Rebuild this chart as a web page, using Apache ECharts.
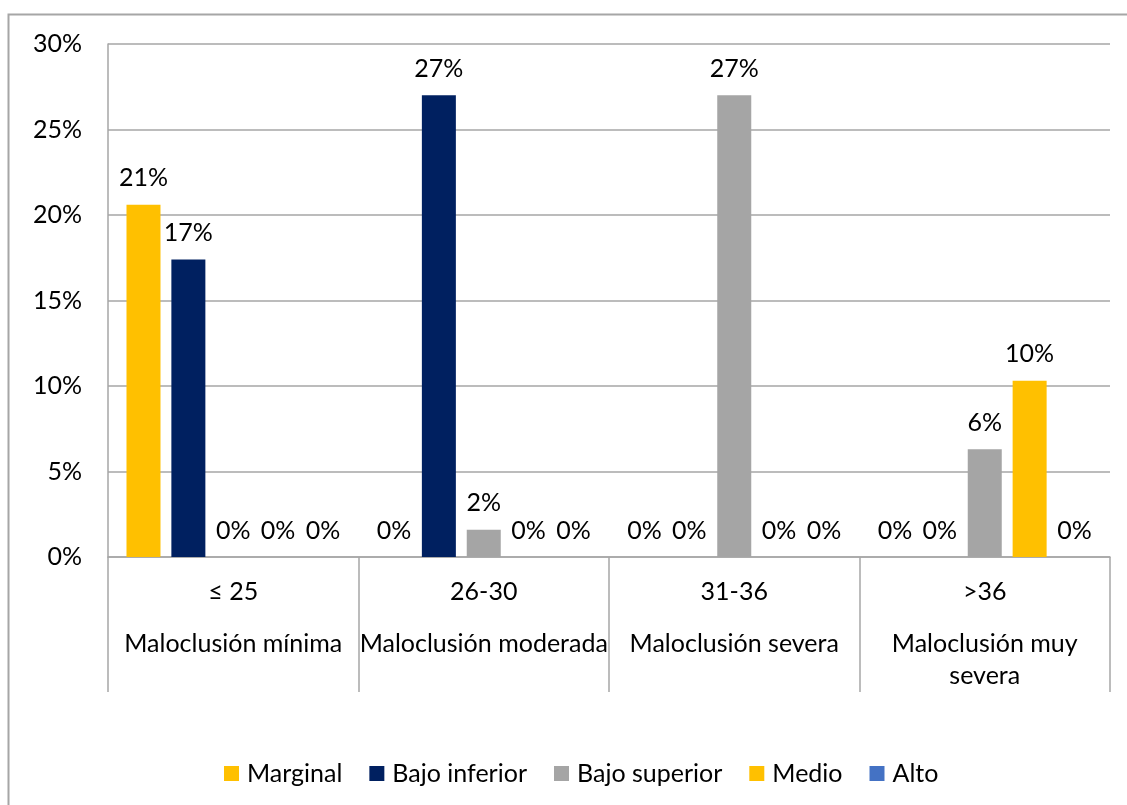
<!DOCTYPE html>
<html>
<head>
<meta charset="utf-8">
<script src="https://cdn.jsdelivr.net/npm/echarts@6/dist/echarts.min.js"></script>
<style>
  html, body { margin: 0; padding: 0; background: #fff; }
  #chart { width: 1127px; height: 805px; }
</style>
</head>
<body>
<div id="chart"></div>
<script>
// Score ranges (upper axis level) and severity names (lower axis level)
const ranges = ['≤ 25', '26-30', '31-36', '>36'];
const severities = ['Maloclusión mínima', 'Maloclusión moderada', 'Maloclusión severa', 'Maloclusión muy\nsevera'];

// Percentages per socioeconomic level
const marginal     = [20.6, 0, 0, 0];
const bajoInferior = [17.4, 27.0, 0, 0];
const bajoSuperior = [0, 1.6, 27.0, 6.3];
const medio        = [0, 0, 0, 10.3];
const alto         = [0, 0, 0, 0];

const seriesNames  = ['Marginal', 'Bajo inferior', 'Bajo superior', 'Medio', 'Alto'];
const seriesValues = [marginal, bajoInferior, bajoSuperior, medio, alto];
const seriesColors = ['#FFC000', '#002060', '#A5A5A5', '#FFC000', '#4472C4'];

const yTicks = { min: 0, max: 30, interval: 5 };

const FONT = 'Lato';
const FS = 25;
const GRAY = '#A6A6A6';

const chart = echarts.init(document.getElementById('chart'), null, { renderer: 'canvas' });

chart.setOption({
  animation: false,
  textStyle: { fontFamily: FONT, fontSize: FS, color: '#000' },
  graphic: [{
    type: 'rect',
    shape: { x: 8.5, y: 14.5, width: 1200, height: 900 },
    style: { fill: 'none', stroke: GRAY, lineWidth: 2 },
    silent: true
  }],
  grid: { left: 108, right: 17, top: 44, bottom: 248 },
  legend: {
    top: 756,
    left: 219,
    itemWidth: 15,
    itemHeight: 15,
    itemGap: 27,
    icon: 'rect',
    textStyle: { fontFamily: FONT, fontSize: FS, color: '#000', padding: [0, 0, 0, 3] },
    data: seriesNames
  },
  xAxis: [{
    type: 'category',
    data: ranges,
    position: 'bottom',
    axisLine: { show: true, lineStyle: { color: GRAY, width: 1.5 } },
    axisTick: { show: true, length: 135, interval: 0, alignWithLabel: false, lineStyle: { color: GRAY, width: 1.5 } },
    axisLabel: { margin: 20, fontFamily: FONT, fontSize: FS, color: '#000', lineHeight: 30, interval: 0 },
    splitLine: { show: false }
  }, {
    type: 'category',
    data: severities,
    position: 'bottom',
    axisLine: { show: false },
    axisTick: { show: false },
    axisLabel: { margin: 71, fontFamily: FONT, fontSize: FS, color: '#000', lineHeight: 32, interval: 0 },
    splitLine: { show: false }
  }],
  yAxis: {
    type: 'value',
    min: yTicks.min,
    max: yTicks.max,
    interval: yTicks.interval,
    axisLine: { show: true, lineStyle: { color: GRAY, width: 1.5 } },
    axisTick: { show: false },
    axisLabel: { margin: 26, fontFamily: FONT, fontSize: FS, color: '#000', formatter: '{value}%' },
    splitLine: { show: true, lineStyle: { color: GRAY, width: 1.5 } }
  },
  series: seriesNames.map((name, i) => ({
    name: name,
    type: 'bar',
    xAxisIndex: 0,
    data: seriesValues[i],
    barWidth: 34,
    barGap: '32%',
    itemStyle: { color: seriesColors[i] },
    label: {
      show: true,
      position: 'top',
      distance: 14,
      fontFamily: FONT,
      fontSize: FS,
      color: '#000',
      formatter: p => Math.round(p.value) + '%'
    }
  }))
});
</script>
</body>
</html>
